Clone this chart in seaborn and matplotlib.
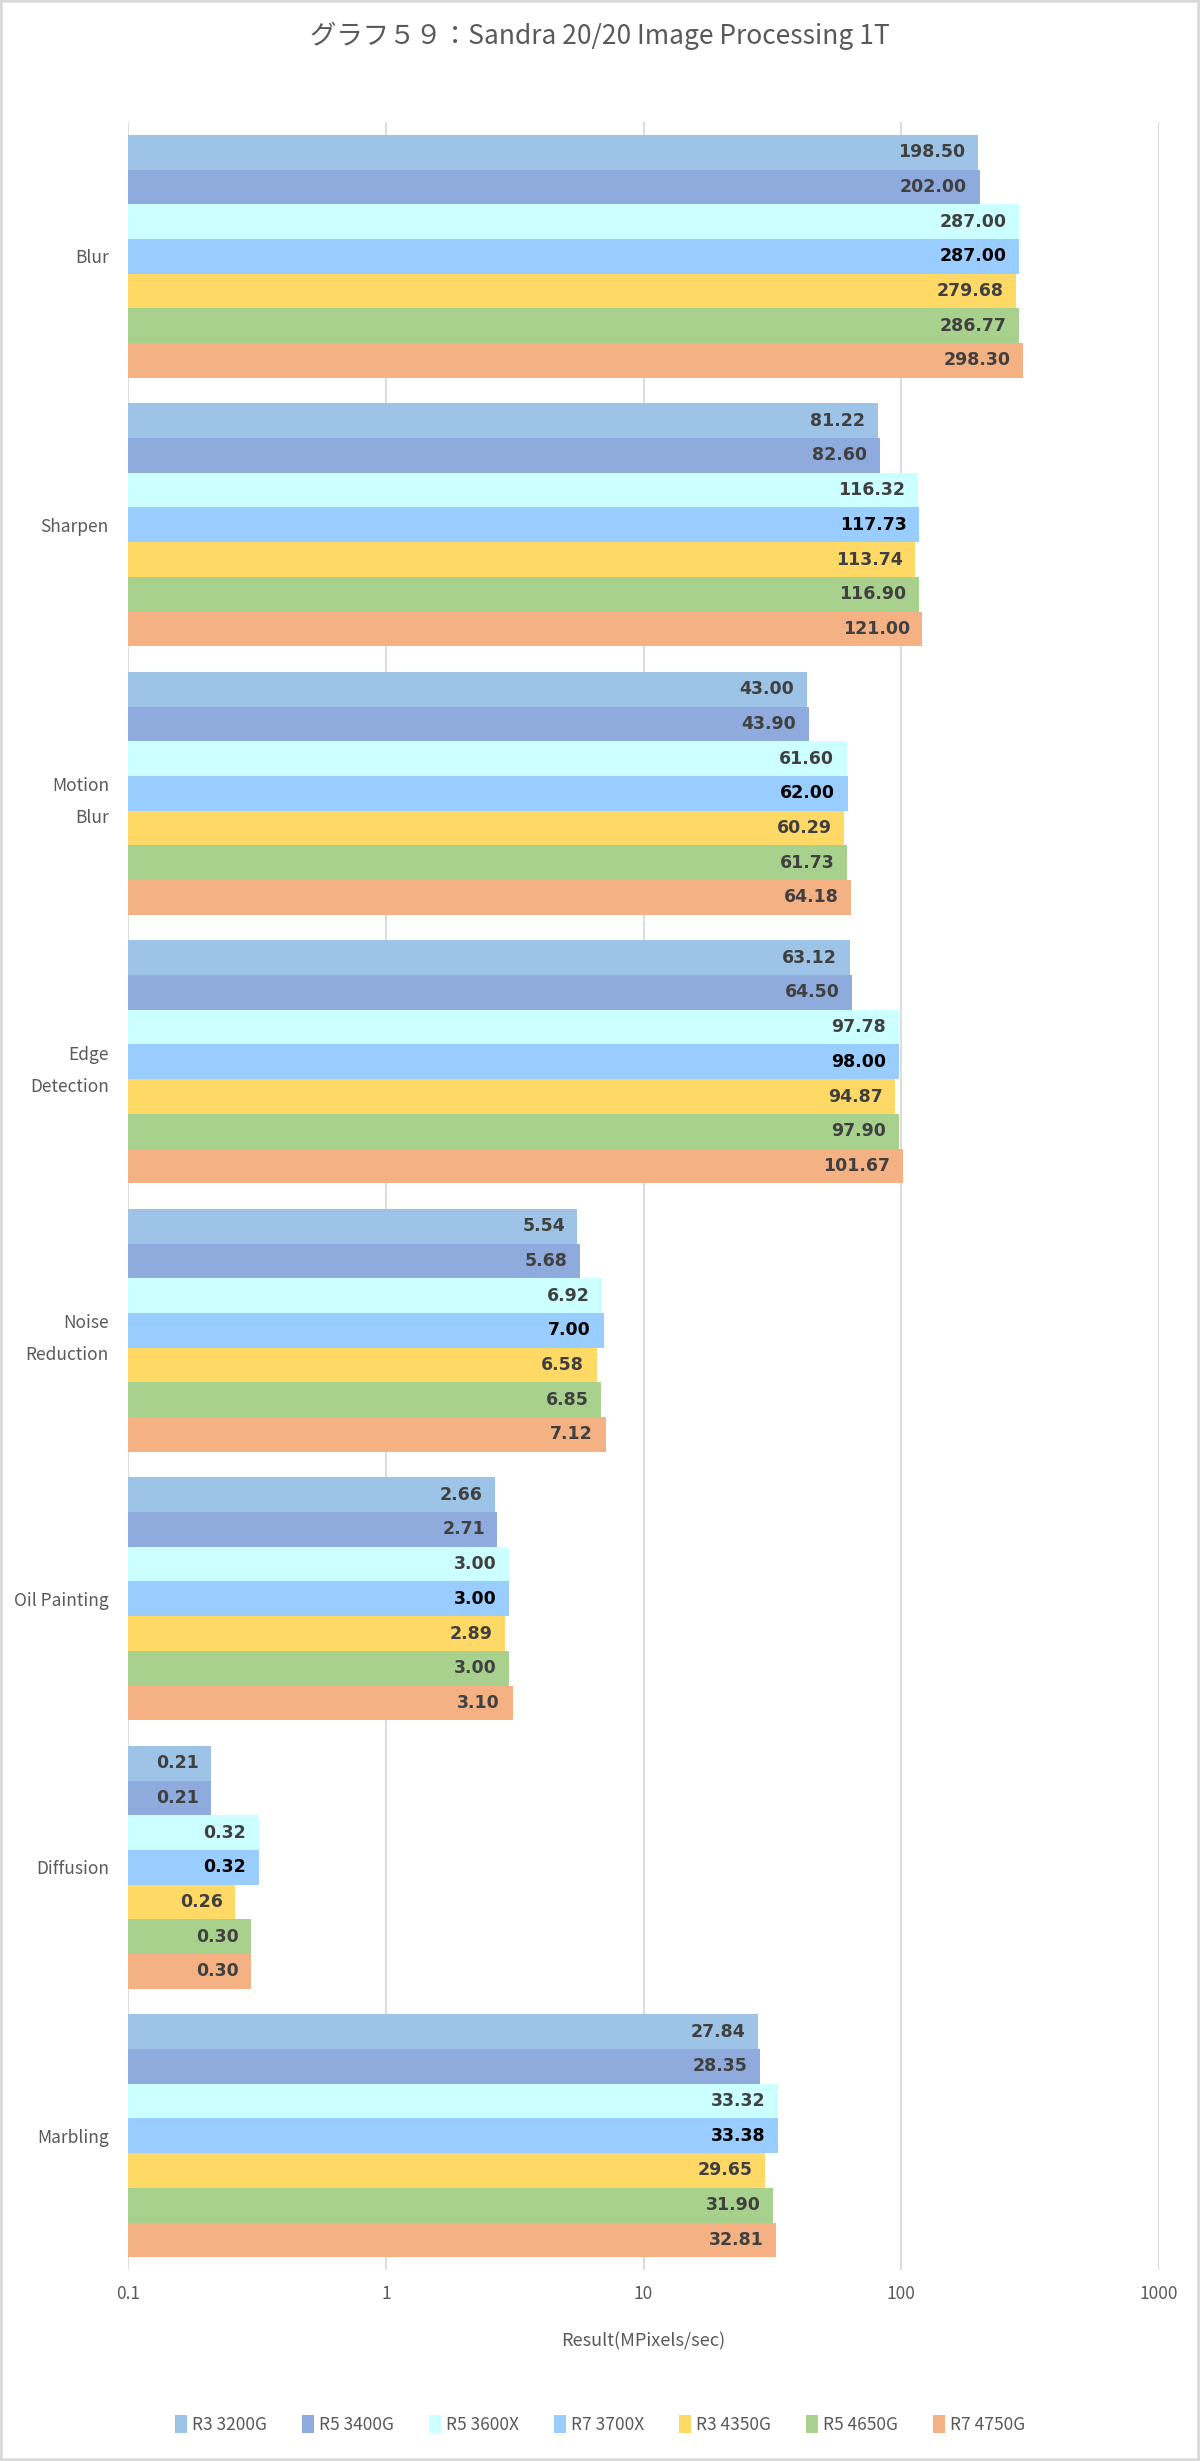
import matplotlib
matplotlib.use("Agg")

import numpy as np
import pandas as pd
import matplotlib.pyplot as plt
import seaborn as sns
from matplotlib.patches import Rectangle

TITLE = "グラフ５９：Sandra 20/20 Image Processing 1T"

categories = ["Blur", "Sharpen", "Motion\nBlur", "Edge\nDetection",
              "Noise\nReduction", "Oil Painting", "Diffusion", "Marbling"]

cpus = ["R3 3200G", "R5 3400G", "R5 3600X", "R7 3700X",
        "R3 4350G", "R5 4650G", "R7 4750G"]

colors = ["#9DC3E6", "#8FAADC", "#CCFFFF", "#99CCFF",
          "#FFD966", "#A9D18E", "#F4B183"]

r3_3200g = [198.50, 81.22, 43.00, 63.12, 5.54, 2.66, 0.21, 27.84]
r5_3400g = [202.00, 82.60, 43.90, 64.50, 5.68, 2.71, 0.21, 28.35]
r5_3600x = [287.00, 116.32, 61.60, 97.78, 6.92, 3.00, 0.32, 33.32]
r7_3700x = [287.00, 117.73, 62.00, 98.00, 7.00, 3.00, 0.32, 33.38]
r3_4350g = [279.68, 113.74, 60.29, 94.87, 6.58, 2.89, 0.26, 29.65]
r5_4650g = [286.77, 116.90, 61.73, 97.90, 6.85, 3.00, 0.30, 31.90]
r7_4750g = [298.30, 121.00, 64.18, 101.67, 7.12, 3.10, 0.30, 32.81]

series = [r3_3200g, r5_3400g, r5_3600x, r7_3700x, r3_4350g, r5_4650g, r7_4750g]

xticks = [0.1, 1, 10, 100, 1000]
xtick_labels = ["0.1", "1", "10", "100", "1000"]


def build_frame():

    rows = []

    for cpu, vals in zip(cpus, series):
        for cat, v in zip(categories, vals):
            rows.append({"test": cat, "cpu": cpu, "value": v})

    return pd.DataFrame(rows)


def main():

    sns.set_theme(style="white")
    plt.rcParams["font.family"] = ["Noto Sans CJK JP", "DejaVu Sans"]

    df = build_frame()

    fig = plt.figure(figsize=(12, 24.61), dpi=100)
    ax = fig.add_axes([0.107, 0.0776, 0.8585, 0.8728])

    sns.barplot(
        data=df, y="test", x="value", hue="cpu",
        order=categories, hue_order=cpus, palette=colors,
        orient="h", width=0.905, linewidth=0,
        errorbar=None, saturation=1, ax=ax, legend=True,
    )

    ax.set_xscale("log", nonpositive="clip")
    ax.set_xlim(0.1, 1000)
    ax.set_xticks(xticks)
    ax.set_xticklabels(xtick_labels)
    ax.xaxis.set_minor_locator(matplotlib.ticker.NullLocator())
    ax.set_ylim(7.5, -0.5)

    ax.grid(axis="x", color="#D9D9D9", linewidth=1.3)
    ax.grid(axis="y", visible=False)
    ax.set_axisbelow(True)
    for s in ax.spines.values():
        s.set_visible(False)

    ax.tick_params(axis="both", length=0, colors="#595959", labelsize=12.5)
    ax.tick_params(axis="x", pad=11)
    ax.tick_params(axis="y", pad=14)
    for lbl in ax.get_yticklabels():
        lbl.set_linespacing(2.0)

    ax.set_ylabel("")
    ax.set_xlabel("Result(MPixels/sec)", color="#595959", fontsize=13, labelpad=21)

    # value labels inside the bar ends
    for i, container in enumerate(ax.containers):
        col = "black" if i == 3 else "#404040"
        for patch in container:
            w = patch.get_x() + patch.get_width()
            yc = patch.get_y() + patch.get_height() / 2
            ax.annotate(
                f"{w:.2f}", xy=(w, yc), xytext=(-9, 0),
                textcoords="offset points", ha="right", va="center",
                fontsize=12.5, fontweight="bold", color=col,
                family="DejaVu Sans",
            )

    handles, labels = ax.get_legend_handles_labels()
    ax.legend_.remove()
    fig.legend(
        handles, labels, loc="center", bbox_to_anchor=(0.5, 0.0147),
        ncol=7, frameon=False, fontsize=12.5, handlelength=0.7,
        handleheight=1.2, handletextpad=0.3, columnspacing=2.0,
        labelcolor="#595959",
    )

    fig.text(0.5, 0.9855, TITLE, ha="center", va="center",
             fontsize=19, color="#595959")

    fig.patches.append(Rectangle((0, 0), 1, 1, transform=fig.transFigure,
                                 fill=False, edgecolor="#D9D9D9", linewidth=4))

    fig.savefig("out.png", dpi=100, facecolor="white")
    plt.close(fig)


if __name__ == "__main__":
    main()
